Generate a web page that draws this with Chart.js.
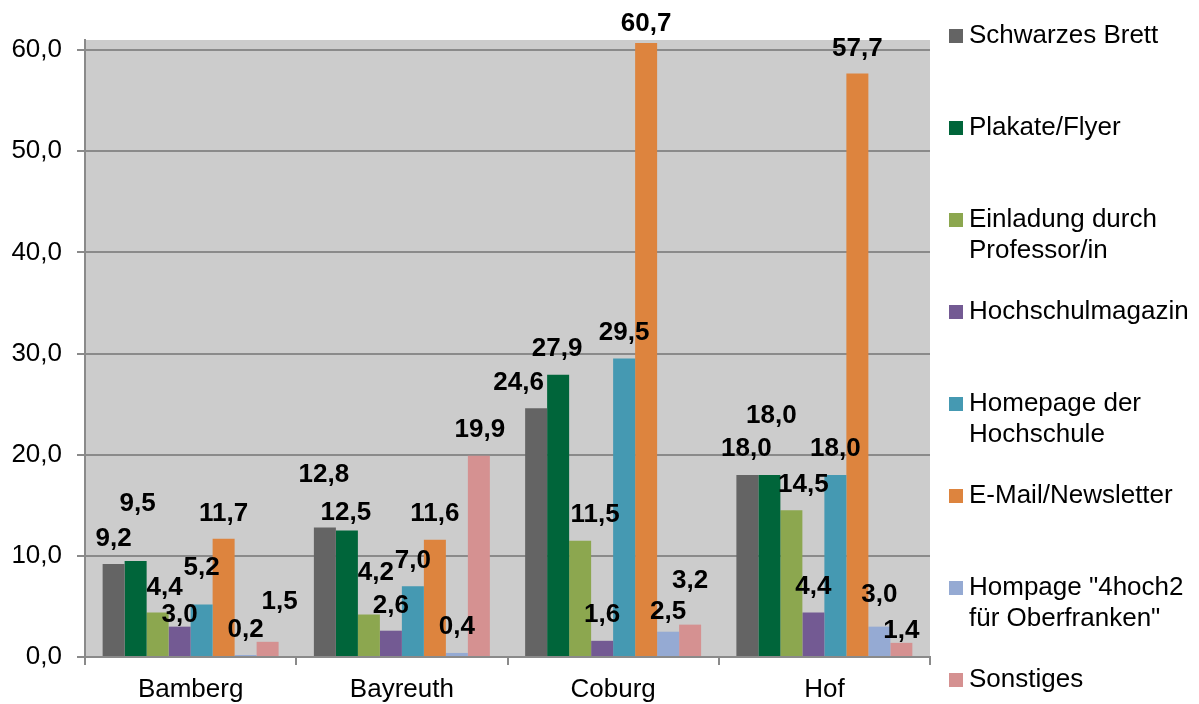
<!DOCTYPE html>
<html lang="de">
<head>
<meta charset="utf-8">
<title>Informationsquellen nach Hochschulstandort</title>
<script src="https://cdn.jsdelivr.net/npm/chart.js@4.4.1/dist/chart.umd.min.js"></script>
<style>
  html, body { margin: 0; padding: 0; background: #ffffff; }
  #wrap { width: 1199px; height: 704px; }
</style>
</head>
<body>
<div id="wrap"><canvas id="chart" width="1199" height="704"></canvas></div>
<script>
// Hochschulstandorte
const categories = ['Bamberg', 'Bayreuth', 'Coburg', 'Hof'];

// Anteile je Informationsquelle (in %)
const schwarzesBrett     = [9.2, 12.8, 24.6, 18.0];
const plakateFlyer       = [9.5, 12.5, 27.9, 18.0];
const einladungProf      = [4.4, 4.2, 11.5, 14.5];
const hochschulmagazin   = [3.0, 2.6, 1.6, 4.4];
const homepageHochschule = [5.2, 7.0, 29.5, 18.0];
const emailNewsletter    = [11.7, 11.6, 60.7, 57.7];
const homepage4hoch2     = [0.2, 0.4, 2.5, 3.0];
const sonstiges          = [1.5, 19.9, 3.2, 1.4];

// Achsenbeschriftung
const yTickValues = [0, 10, 20, 30, 40, 50, 60];

// Legendentexte (mit Zeilenumbruch)
const seriesLabels = [
  ['Schwarzes Brett'],
  ['Plakate/Flyer'],
  ['Einladung durch', 'Professor/in'],
  ['Hochschulmagazin'],
  ['Homepage der', 'Hochschule'],
  ['E-Mail/Newsletter'],
  ['Hompage "4hoch2', 'für Oberfranken"'],
  ['Sonstiges']
];

const seriesColors = ['#646464', '#00653A', '#8CA74F', '#735A93', '#4599B2', '#DD843E', '#95AAD3', '#D59191'];

// Versatz der Wertbeschriftungen (dx, dy in px, Textmitte relativ zur Balkenoberkante)
const labelOffsets = [
  [[0, -25], [-1, -53], [-17.5, -25.5], [-1, -26]],
  [[2, -57], [-1, -18], [-1, -25.5], [2, -59]],
  [[7, -25], [7, -42], [15, -25.5], [12, -26]],
  [[0, -12], [0, -25], [0, -26], [0, -26]],
  [[0, -37], [0, -25], [0, -26], [0, -26]],
  [[0, -25], [0, -26], [0, -19], [0, -25]],
  [[0, -25], [0, -26], [0, -20], [0, -32]],
  [[12, -40], [1, -26], [0, -44], [0, -12]]
];

const seriesValues = [schwarzesBrett, plakateFlyer, einladungProf, hochschulmagazin,
                      homepageHochschule, emailNewsletter, homepage4hoch2, sonstiges];

const FONT = "'Liberation Sans', Arial, sans-serif";
const AXIS_COLOR = '#8a8a8a';
const fmt = v => v.toFixed(1).replace('.', ',');

// Grauer Hintergrund der Zeichenfläche
const plotBackground = {
  id: 'plotBackground',
  beforeDraw(chart) {
    const { ctx, chartArea: a } = chart;
    ctx.save();
    ctx.fillStyle = '#cccccc';
    ctx.fillRect(a.left, a.top, a.right - a.left, a.bottom - a.top);
    ctx.restore();
  }
};

// Wertbeschriftungen über den Balken
const valueLabels = {
  id: 'valueLabels',
  afterDraw(chart) {
    const { ctx } = chart;
    ctx.save();
    ctx.font = 'bold 26px ' + FONT;
    ctx.fillStyle = '#000000';
    ctx.textAlign = 'center';
    ctx.textBaseline = 'middle';
    chart.data.datasets.forEach((ds, di) => {
      const meta = chart.getDatasetMeta(di);
      meta.data.forEach((bar, i) => {
        const off = labelOffsets[di][i];
        ctx.fillText(fmt(ds.data[i]), bar.x + off[0], bar.y + off[1]);
      });
    });
    ctx.restore();
  }
};

// Legende rechts, gleichmäßig über die Höhe verteilt
const sideLegend = {
  id: 'sideLegend',
  afterDraw(chart) {
    const { ctx } = chart;
    const n = chart.data.datasets.length;
    const firstY = 36, lastY = 680;
    const step = (lastY - firstY) / (n - 1);
    ctx.save();
    ctx.font = '26px ' + FONT;
    ctx.fillStyle = '#000000';
    ctx.textAlign = 'left';
    ctx.textBaseline = 'middle';
    chart.data.datasets.forEach((ds, i) => {
      const y = firstY + i * step;
      ctx.fillStyle = ds.backgroundColor;
      ctx.fillRect(949, y - 7, 14, 14);
      ctx.fillStyle = '#000000';
      seriesLabels[i].forEach((line, li) => {
        ctx.fillText(line, 969, y + li * 31);
      });
    });
    ctx.restore();
  }
};

new Chart(document.getElementById('chart'), {
  type: 'bar',
  data: {
    labels: categories,
    datasets: seriesValues.map((vals, i) => ({
      label: seriesLabels[i].join(' '),
      data: vals,
      backgroundColor: seriesColors[i],
      borderWidth: 0,
      barPercentage: 1,
      categoryPercentage: 0.833
    }))
  },
  options: {
    responsive: false,
    devicePixelRatio: 1,
    animation: false,
    layout: { padding: { top: 40, right: 269, bottom: 0, left: 0 } },
    plugins: {
      legend: { display: false },
      tooltip: { enabled: false },
      title: { display: false }
    },
    scales: {
      x: {
        grid: {
          offset: true,
          drawOnChartArea: false,
          drawTicks: true,
          tickLength: 8,
          color: AXIS_COLOR,
          lineWidth: 2
        },
        border: { display: true, color: AXIS_COLOR, width: 2 },
        ticks: {
          color: '#000000',
          font: { family: FONT, size: 26 },
          padding: 9,
          maxRotation: 0
        },
        afterFit(scale) { scale.height = 47; }
      },
      y: {
        min: 0,
        max: 61,
        afterBuildTicks(scale) {
          scale.ticks = yTickValues.map(v => ({ value: v }));
        },
        grid: {
          color: AXIS_COLOR,
          lineWidth: 2,
          drawTicks: true,
          tickLength: 8
        },
        border: { display: true, color: AXIS_COLOR, width: 2 },
        ticks: {
          color: '#000000',
          font: { family: FONT, size: 26 },
          padding: 15,
          callback: v => fmt(v)
        },
        afterFit(scale) { scale.width = 85; }
      }
    }
  },
  plugins: [plotBackground, valueLabels, sideLegend]
});
</script>
</body>
</html>
